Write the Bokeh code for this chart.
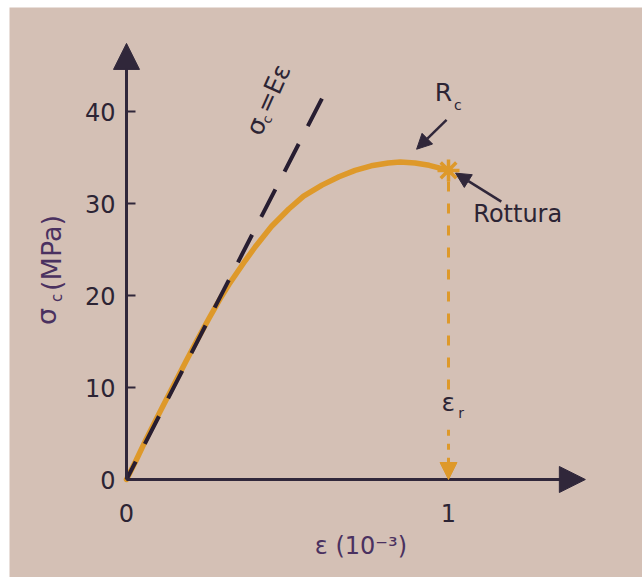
import math
from bokeh.plotting import figure
from bokeh.models import Arrow, NormalHead, Label, FixedTicker, Range1d
from bokeh.embed import file_html
from bokeh.resources import INLINE

# Compressive stress-strain curve of concrete (strain in 10^-3, stress in MPa)
strain = [0.0, 0.03, 0.06, 0.09, 0.122, 0.15, 0.184, 0.22, 0.256, 0.29, 0.318,
          0.369, 0.40, 0.45, 0.504, 0.55, 0.607, 0.66, 0.71, 0.76, 0.813, 0.85,
          0.896, 0.94, 1.0]
stress = [0.0, 2.1, 4.3, 6.4, 8.6, 10.5, 12.8, 15.2, 17.5, 19.6, 21.2,
          23.8, 25.3, 27.5, 29.4, 30.8, 32.0, 32.9, 33.6, 34.1, 34.4, 34.5,
          34.4, 34.15, 33.6]

# Elastic line sigma = E * epsilon (drawn from its upper end down to the origin)
elastic_strain = [0.607, 0.0]
elastic_stress = [41.4, 0.0]

# Failure point
rupture_strain = [1.0]
rupture_stress = [33.6]

y_ticks = [0, 10, 20, 30, 40]
x_ticks = [0, 1]

BG = "#d4c0b5"
AX = "#30273a"
TXT = "#2c2434"
PURPLE = "#4a3160"
ORANGE = "#de992a"
DASH = "#271d31"

XS = 322.0   # pixels per unit of strain
YS = 9.2     # pixels per MPa
W, H = 633, 570
OX, OY = 117, 472   # origin position inside the canvas (from left, from top)

p = figure(width=W, height=H,
           x_range=Range1d(-OX / XS, (W - OX) / XS),
           y_range=Range1d(-(H - OY) / YS, OY / YS),
           output_backend="svg", toolbar_location=None,
           min_border=0)
p.margin = (7, 0, 3, 9)
p.background_fill_color = BG
p.border_fill_color = BG
p.outline_line_color = None
p.grid.visible = False

# y axis, pinned to strain = 0
ya = p.yaxis[0]
ya.fixed_location = 0
ya.ticker = FixedTicker(ticks=y_ticks)
ya.bounds = (0, 45)
ya.axis_line_color = AX
ya.axis_line_width = 3
ya.major_tick_in = 9
ya.major_tick_out = 0
ya.major_tick_line_color = AX
ya.major_tick_line_width = 2
ya.minor_tick_in = 0
ya.minor_tick_out = 0
ya.major_label_text_font = "DejaVu Sans"
ya.major_label_text_font_size = "24px"
ya.major_label_text_color = TXT
ya.major_label_standoff = 11

# x axis, pinned to stress = 0
xa = p.xaxis[0]
xa.fixed_location = 0
xa.ticker = FixedTicker(ticks=x_ticks)
xa.bounds = (0, 1.36)
xa.axis_line_color = AX
xa.axis_line_width = 3
xa.major_tick_in = 0
xa.major_tick_out = 0
xa.minor_tick_in = 0
xa.minor_tick_out = 0
xa.major_label_text_font = "DejaVu Sans"
xa.major_label_text_font_size = "24px"
xa.major_label_text_color = TXT
xa.major_label_standoff = 24

# axis arrow heads
p.add_layout(Arrow(end=NormalHead(size=26, fill_color=AX, line_color=AX),
                   x_start=0, y_start=44, x_end=0, y_end=47.4,
                   line_color=AX, line_width=3))
p.add_layout(Arrow(end=NormalHead(size=26, fill_color=AX, line_color=AX),
                   x_start=1.34, y_start=0, x_end=1.425, y_end=0,
                   line_color=AX, line_width=3))

# stress-strain curve
p.line(strain, stress, line_color=ORANGE, line_width=5.5, line_cap="round", line_join="round")

# elastic dashed line
p.line(elastic_strain, elastic_stress, line_color=DASH, line_width=4, line_dash="31 20")

# failure strain: dashed drop line with arrow
p.line([rupture_strain[0]] * 2, [rupture_stress[0] - 1.2, 9.6],
       line_color=ORANGE, line_width=3, line_dash="10 12")
p.line([rupture_strain[0]] * 2, [5.4, 2.0],
       line_color=ORANGE, line_width=3, line_dash="6 8")
p.add_layout(Arrow(end=NormalHead(size=17, fill_color=ORANGE, line_color=ORANGE),
                   x_start=rupture_strain[0], y_start=2.0,
                   x_end=rupture_strain[0], y_end=0,
                   line_color=ORANGE, line_width=3))

# rupture marker
p.scatter(rupture_strain, rupture_stress, marker="asterisk", size=22,
          line_color=ORANGE, line_width=3.5)

# pointer arrows
p.add_layout(Arrow(end=NormalHead(size=15, fill_color=AX, line_color=AX),
                   x_start=0.994, y_start=39.1, x_end=0.901, y_end=35.9,
                   line_color=AX, line_width=2.5))
p.add_layout(Arrow(end=NormalHead(size=15, fill_color=AX, line_color=AX),
                   x_start=1.164, y_start=30.2, x_end=1.022, y_end=33.3,
                   line_color=AX, line_width=2.5))


def lab(text, x, y, size, color=TXT, angle=0.0):
    p.add_layout(Label(x=x, y=y, text=text, angle=angle,
                       text_font="DejaVu Sans", text_font_size=f"{size}px",
                       text_color=color, text_align="left",
                       text_baseline="alphabetic"))


def along(x0, y0, s, t, ang):
    """Point s px along a text direction and t px below its baseline."""
    px = s * math.cos(ang) + t * math.sin(ang)
    py = s * math.sin(ang) - t * math.cos(ang)
    return x0 + px / XS, y0 + py / YS


# annotations
lab("R", 0.957, 42.1, 25)
lab("c", 1.017, 40.7, 14)
lab("Rottura", 1.077, 28.9, 24)
lab("ε", 0.978, 8.4, 25)
lab("r", 1.030, 7.2, 14)

# sigma_c = E epsilon, written along the dashed line
a = math.radians(66)
x0, y0 = 0.393, 37.6
lab("σ", x0, y0, 25, TXT, a)
cx, cy = along(x0, y0, 15, 7, a)
lab("c", cx, cy, 13, TXT, a)
ex, ey = along(x0, y0, 24, 0, a)
lab("=Eε", ex, ey, 25, TXT, a)

# axis titles
v = math.pi / 2
sx, sy = -0.25, 16.8
lab("σ", sx, sy, 27, PURPLE, v)
cx, cy = along(sx, sy, 23, 11, v)
lab("c", cx, cy, 15, PURPLE, v)
mx, my = along(sx, sy, 34, 5, v)
lab("(MPa)", mx, my, 27, PURPLE, v)

lab("ε (10⁻³)", 0.585, -7.2, 24, PURPLE)

open("out.html", "w").write(file_html(p, INLINE))
